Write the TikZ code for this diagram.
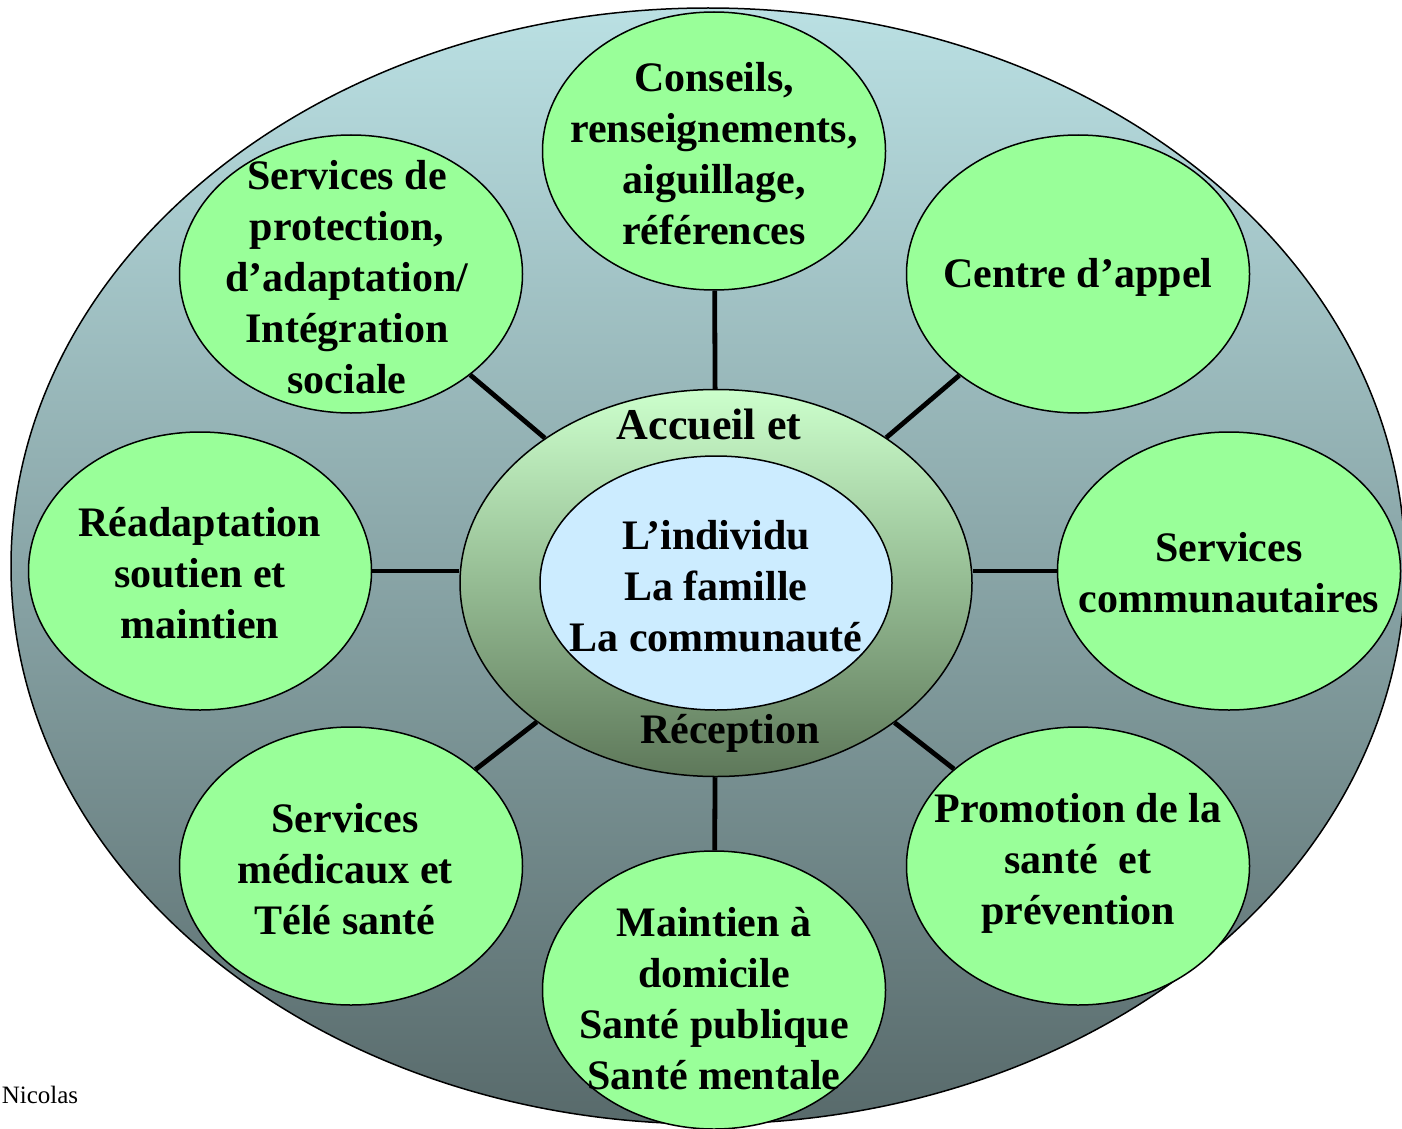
\documentclass[tikz,border=0pt]{standalone}
\usepackage{fontspec}
\setmainfont{Liberation Serif}
\usepackage{tikz}
\usetikzlibrary{shapes.geometric}

\definecolor{outertop}{RGB}{186,224,227}
\definecolor{outerbot}{RGB}{88,106,107}
\definecolor{ringtop}{RGB}{204,255,204}
\definecolor{ringbot}{RGB}{94,120,90}
\definecolor{corefill}{RGB}{204,236,255}
\definecolor{satgreen}{RGB}{153,255,153}

\begin{document}
\begin{tikzpicture}[x=0.5pt,y=-0.5pt,line width=0.75pt]

  \tikzstyle{outer}=[ellipse,draw=black,top color=outertop,bottom color=outerbot,
    inner sep=0pt,minimum width=697pt,minimum height=558pt]

  \tikzstyle{ring}=[ellipse,draw=black,top color=ringtop,bottom color=ringbot,
    inner sep=0pt,minimum width=256pt,minimum height=193.5pt]

  \tikzstyle{core}=[ellipse,draw=black,fill=corefill,
    inner sep=0pt,minimum width=176pt,minimum height=127pt]

  \tikzstyle{sat}=[ellipse,draw=black,fill=satgreen,
    inner sep=0pt,minimum width=171.5pt,minimum height=139pt]

  \tikzstyle{txt}=[align=center,inner sep=0pt,
    font=\fontsize{21}{25.5}\selectfont\bfseries]

  %% \draw [help lines] (0,0) grid[step=100] (1402,1129);
  \useasboundingbox (0,0) rectangle (1402,1129);

  \node  (big)  at (708,566)   [outer] {};

  \node  (ring) at (716,583)   [ring]  {};
  \node  (core) at (716,583)   [core]  {};

  \node  (s1)   at (714,151)   [sat]   {};
  \node  (s2)   at (1078,274)  [sat]   {};
  \node  (s3)   at (1229,571)  [sat]   {};
  \node  (s4)   at (1078,866)  [sat]   {};
  \node  (s5)   at (714,990)   [sat]   {};
  \node  (s6)   at (351,866)   [sat]   {};
  \node  (s7)   at (200,571)   [sat]   {};
  \node  (s8)   at (351,274)   [sat]   {};

  \node  (accueil) at (709,424) [txt,font=\fontsize{22}{26}\selectfont\bfseries]
         {Accueil et};
  \node  (recept)  at (730,733) [txt] {Réception};
  \node  (who)     at (716,586) [txt]
         {L’individu\\ La famille\\ La communauté};

  \node  (t1) at (714,154)  [txt] {Conseils,\\ renseignements,\\ aiguillage,\\ références};
  \node  (t2) at (1078,277) [txt] {Centre d’appel};
  \node  (t3) at (1229,573) [txt] {Services\\ communautaires};
  \node  (t4) at (1078,863) [txt] {Promotion de la\\ santé\ \ et\\ prévention};
  \node  (t5) at (714,999)  [txt] {Maintien à\\ domicile\\ Santé publique\\ Santé mentale};
  \node  (t6) at (345,869)  [txt] {Services\\ médicaux et\\ Télé santé};
  \node  (t7) at (200,573)  [txt] {Réadaptation\\ soutien et\\ maintien};
  \node  (t8) at (347,277)  [txt] {Services de\\ protection,\\ d’adaptation/\\ Intégration\\ sociale};

  \node  (sig) at (1,1095) [anchor=west,inner sep=0pt,font=\fontsize{12.5}{14}\selectfont]
         {Nicolas};

  \tikzstyle{link}=[line width=2.4pt,color=black]

  \path (ring) edge [link] (s1)
               edge [link] (s2)
               edge [link] (s4)
               edge [link] (s5)
               edge [link] (s6)
               edge [link] (s8);

  \draw [link] (s7) -- (s7 -| ring.west);
  \draw [link] (s3) -- (s3 -| ring.east);

\end{tikzpicture}
\end{document}
